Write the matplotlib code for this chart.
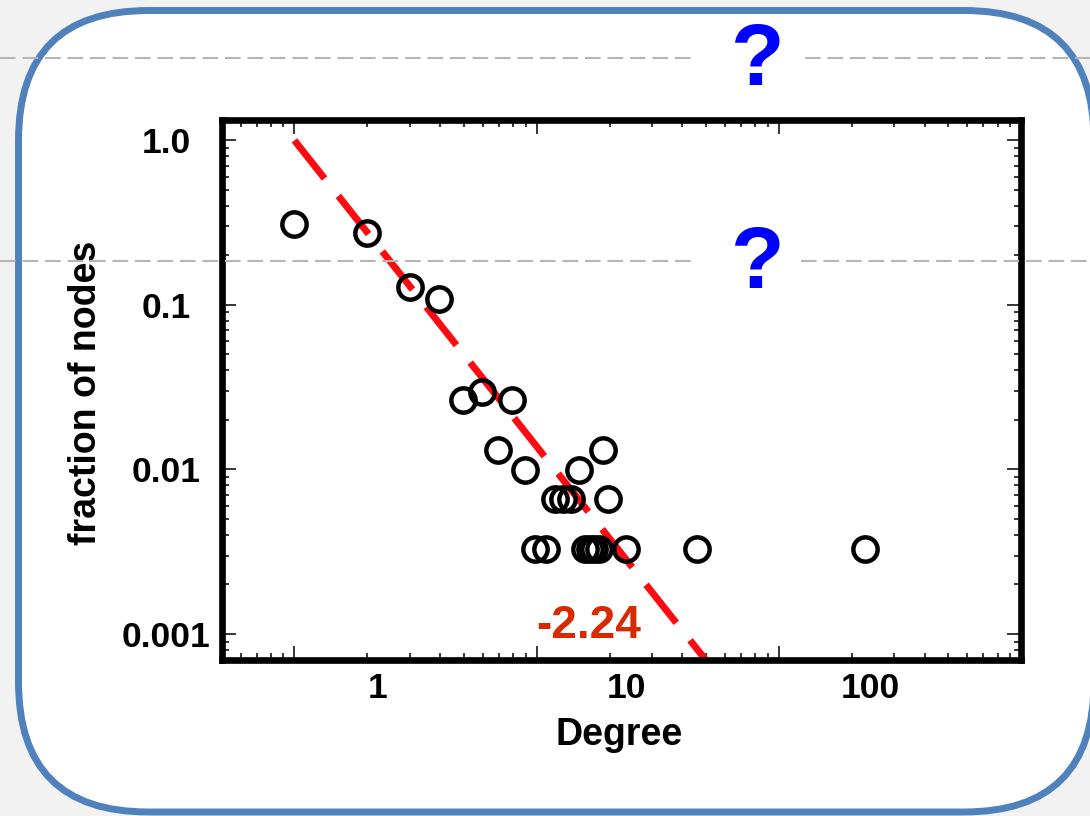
import matplotlib
matplotlib.use("Agg")
import matplotlib.pyplot as plt
from matplotlib.patches import FancyBboxPatch
from matplotlib.lines import Line2D
from matplotlib.transforms import IdentityTransform, blended_transform_factory
from matplotlib.ticker import NullFormatter

plt.rcParams['font.family'] = ['Liberation Sans', 'DejaVu Sans']
plt.rcParams['font.weight'] = 'bold'

# ---- data ----
degree = [1.0, 2.0, 3.0, 3.95, 4.95, 5.95, 6.95, 7.9, 8.95, 9.85, 10.9,
          11.9, 12.9, 13.9, 14.9, 15.9, 16.6, 17.3, 18.1, 18.8, 19.7, 23.5, 46, 228]
fraction = [0.31, 0.274, 0.129, 0.109, 0.0264, 0.0296, 0.0132, 0.0264, 0.0099, 0.0033, 0.0033,
            0.0066, 0.0066, 0.0066, 0.0099, 0.0033, 0.0033, 0.0033, 0.0033, 0.0132, 0.0066, 0.0033, 0.0033, 0.0033]
fit_x = [1.0, 55.0]
fit_y = [1.0, 0.00058]
slope_label = "-2.24"
slope_pos = (16.4, 0.00095)
x_ticks = [1, 10, 100, 1000]
x_tick_labels = ["1", "10", "100"]
x_label_pos = [2.2, 23.6, 238]
y_ticks = [1.0, 0.1, 0.01, 0.001]
y_tick_labels = ["1.0", "0.1", "0.01", "0.001"]

W, H = 1090, 816
fig = plt.figure(figsize=(W / 100, H / 100), dpi=100, facecolor='#f2f2f2')

# rounded slide panel
panel = FancyBboxPatch((18.5, 4), 1094 - 18.5, 805.5 - 4,
                       boxstyle='round,pad=0,rounding_size=130',
                       facecolor='white', edgecolor='#4f81bd', linewidth=5,
                       transform=IdentityTransform(), zorder=-5)
fig.add_artist(panel)

ax = fig.add_axes([221.5 / W, 1 - 659.5 / H, (1021 - 221.5) / W, (659.5 - 120) / H])
ax.set_xscale('log')
ax.set_yscale('log')
ax.set_xlim(0.5, 1000)
ax.set_ylim(0.0007, 1.33)

ax.plot(fit_x, fit_y, color='#ff0a10', lw=5, dashes=(7, 3.2),
        solid_capstyle='butt', dash_capstyle='butt', zorder=2)
ax.plot(degree, fraction, 'o', ms=17.5, mfc='none', mec='black', mew=3.2, zorder=3)

ax.text(slope_pos[0], slope_pos[1], slope_label, color='#d82a00', fontsize=33,
        fontweight='bold', ha='center', va='baseline', zorder=4)

for s in ax.spines.values():
    s.set_linewidth(4.8)
    s.set_capstyle('projecting')

ax.set_xticks(x_ticks, labels=[''] * len(x_ticks))
ax.xaxis.set_minor_formatter(NullFormatter())
tr = blended_transform_factory(ax.transData, ax.transAxes)
for xp, lab in zip(x_label_pos, x_tick_labels):
    ax.text(xp, -0.053, lab, transform=tr, ha='center', va='center',
            fontsize=25.5, fontweight='bold', clip_on=False)

ax.set_yticks(y_ticks, labels=y_tick_labels)
ax.yaxis.set_minor_formatter(NullFormatter())
for lbl in ax.get_yticklabels():
    lbl.set_horizontalalignment('center')
    lbl.set_fontsize(25.5)
    lbl.set_fontweight('bold')

ax.tick_params(which='both', direction='in', top=True, right=True, width=1.1)
ax.tick_params(which='major', length=10)
ax.tick_params(which='minor', length=5)
ax.tick_params(axis='y', which='major', pad=40)

ax.set_xlabel('Degree', fontsize=27, fontweight='bold', va='center')
ax.xaxis.set_label_coords(0.497, -0.14)
ax.set_ylabel('fraction of nodes', fontsize=27, fontweight='bold', va='center')
ax.yaxis.set_label_coords(-0.1695, 0.494)

# gray dashed slide guide lines
for yimg, xa, xb in [(58, 692, 805), (261, 691, 801)]:
    yd = H - yimg
    for x0, x1 in [(0, xa), (xb, W)]:
        fig.add_artist(Line2D([x0, x1], [yd, yd], color='#b5b5b5', lw=1.5,
                              dashes=(7.5, 3.3), transform=IdentityTransform(), zorder=10))

for yb in [1 - 85 / H, 1 - 288.3 / H]:
    fig.text(758 / W, yb, '?', color='#0000ff', fontsize=63, fontweight='bold',
             ha='center', va='baseline', zorder=11)

fig.savefig('out.png', dpi=100, facecolor=fig.get_facecolor())
